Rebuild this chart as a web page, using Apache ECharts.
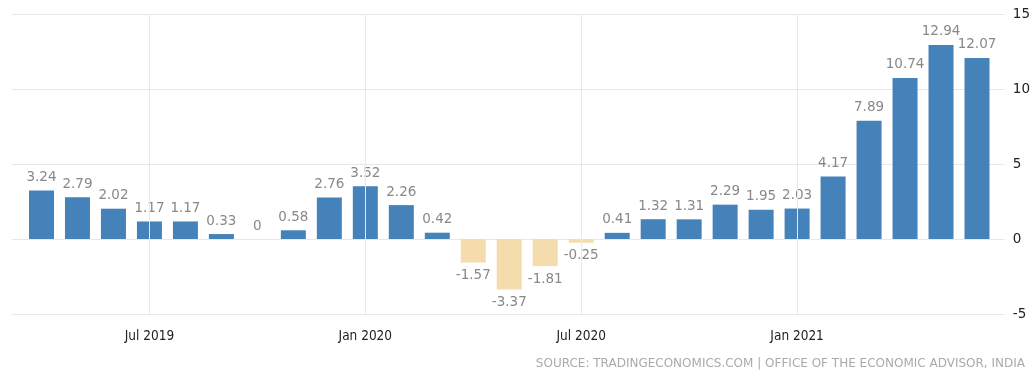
<!DOCTYPE html>
<html><head><meta charset="utf-8">
<script src="https://cdn.jsdelivr.net/npm/echarts@6/dist/echarts.min.js"></script>
<style>html,body{margin:0;padding:0;background:#fff}#c{width:1033px;height:374px}</style>
</head><body><div id="c"></div>
<script>
const categories = ['Apr 2019','May 2019','Jun 2019','Jul 2019','Aug 2019','Sep 2019','Oct 2019','Nov 2019','Dec 2019','Jan 2020','Feb 2020','Mar 2020','Apr 2020','May 2020','Jun 2020','Jul 2020','Aug 2020','Sep 2020','Oct 2020','Nov 2020','Dec 2020','Jan 2021','Feb 2021','Mar 2021','Apr 2021','May 2021','Jun 2021'];
const values = [3.24,2.79,2.02,1.17,1.17,0.33,0,0.58,2.76,3.52,2.26,0.42,-1.57,-3.37,-1.81,-0.25,0.41,1.32,1.31,2.29,1.95,2.03,4.17,7.89,10.74,12.94,12.07];
const shownLabels = ['Jul 2019','Jan 2020','Jul 2020','Jan 2021'];
const yTicks = [-5,0,5,10,15];

const chart = echarts.init(document.getElementById('c'));
const gTop = 14, gBottom = 60;
chart.setOption({
  animation:false,
  grid:[
    {left:23.5,right:38,top:gTop,bottom:gBottom},
    {left:12,right:26,top:gTop,bottom:gBottom}
  ],
  xAxis:[
    {type:'category',gridIndex:0,data:categories,boundaryGap:true,
     axisLine:{show:false},axisTick:{show:false},splitLine:{show:false},
     axisLabel:{interval:0,margin:15,color:'#222',fontSize:13.5,fontFamily:'DejaVu Sans Condensed, DejaVu Sans, sans-serif',
       formatter:v=>shownLabels.includes(v)?v:''}},
    {type:'value',gridIndex:1,show:false,min:0,max:1}
  ],
  yAxis:[
    {type:'value',gridIndex:0,min:yTicks[0],max:yTicks[yTicks.length-1],interval:5,show:false},
    {type:'value',gridIndex:1,position:'right',min:yTicks[0],max:yTicks[yTicks.length-1],interval:5,
     axisLine:{show:false},axisTick:{show:false},
     splitLine:{show:true,lineStyle:{color:'#e8e8e8',width:1}},
     axisLabel:{color:'#222',fontSize:13.5,margin:8,fontFamily:'DejaVu Sans, sans-serif'}}
  ],
  series:[
    {type:'bar',xAxisIndex:0,yAxisIndex:0,barWidth:25,
     data:values.map(v=>({value:v,
       itemStyle:{color:v<0?'#f4dcac':'#4682ba'},
       label:{show:true,position:v<0?'bottom':'top'}})),
     label:{color:'#888',fontSize:13.5,distance:6,fontFamily:'DejaVu Sans, sans-serif',formatter:p=>String(p.value)},
     markLine:{silent:true,symbol:'none',label:{show:false},
       lineStyle:{color:'#e8e8e8',type:'solid',width:1},
       data:shownLabels.map(c=>({xAxis:c}))}
    }
  ],
  graphic:[{type:'text',right:8,top:358,
    style:{text:'SOURCE: TRADINGECONOMICS.COM | OFFICE OF THE ECONOMIC ADVISOR, INDIA',fill:'#aaa',fontSize:12,fontFamily:'DejaVu Sans, sans-serif'}}]
});
</script></body></html>
